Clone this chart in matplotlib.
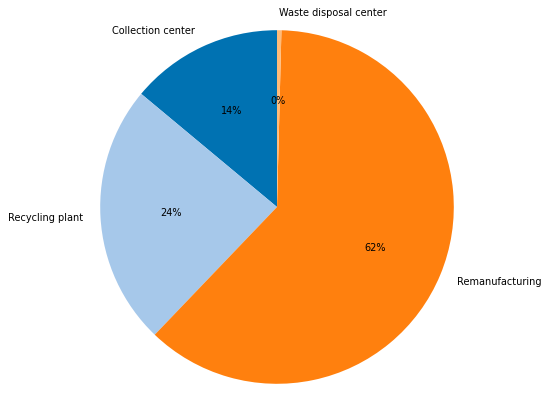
import matplotlib
matplotlib.use("Agg")
import matplotlib.pyplot as plt

# Datos
categorias = ['Collection center', 'Recycling plant', 'Remanufacturing', 'Waste disposal center']
valores = [14, 24, 62, 0.4]
colores = ['#0072B2', '#A6C8EA', '#FF800E', '#FFBB78']

fig = plt.figure(figsize=(5.5, 3.96), dpi=100)
# ejes cuadrados de 442 px centrados en (277, 207)
ax = fig.add_axes([56 / 550, -32 / 396, 442 / 550, 442 / 396])

ax.pie(valores, labels=categorias, colors=colores, autopct='%1.0f%%',
       startangle=90, counterclock=True,
       textprops={'fontsize': 7})
ax.set_aspect('equal')

fig.savefig('out.png', dpi=100)
